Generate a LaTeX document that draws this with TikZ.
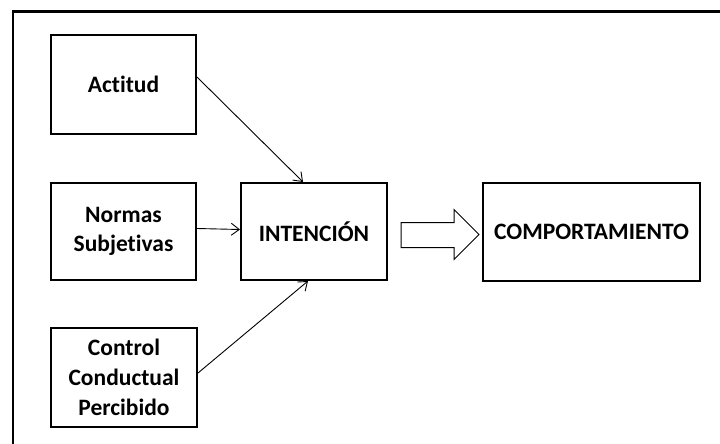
\documentclass[tikz,border=0pt]{standalone}
\usepackage{fontspec}
\setmainfont{Carlito}[Ligatures=NoCommon]
\usetikzlibrary{arrows.meta,calc}
\begin{document}
\begin{tikzpicture}[x=1pt,y=-1pt,
  box/.style={draw,line width=2pt,fill=white,align=center,inner sep=0pt,
    font=\fontsize{23.5}{29.7}\selectfont\bfseries},
  link/.style={line width=0.9pt,-{Straight Barb[length=8pt,width=12pt,line width=0.9pt]}}]
\useasboundingbox[fill=white] (0,0) rectangle (720,444);
% outer frame (top and left edges)
\coordinate (fbl) at (13,446);
\coordinate (ftl) at (13,11.5);
\coordinate (ftr) at (722,11.5);
\draw[line width=2.5pt] (fbl) -- (ftl) -- (ftr);
% boxes
\node[box,minimum width=145pt,minimum height=99pt] (actitud) at (123.5,84.5) {Actitud};
\node[box,minimum width=145pt,minimum height=97pt] (normas) at (123.5,231.5) {Normas\\Subjetivas};
\node[box,minimum width=146pt,minimum height=99pt] (control) at (124,377.5) {Control\\Conductual\\Percibido};
\node[box,minimum width=146pt,minimum height=97pt] (intencion) at (314,231.5) {INTENCIÓN};
\node[box,minimum width=217pt,minimum height=98pt] (comport) at (591.5,232) {COMPORTAMIENTO};
% influences on the intention
\draw[link] ([yshift=7.5pt]actitud.east) -- ([xshift=-11pt]intencion.north);
\draw[link] ([yshift=3pt]normas.east) -- ([yshift=2pt]intencion.west);
\draw[link] ([yshift=4.5pt]control.east) -- ([xshift=-6pt]intencion.south);
% block arrow from intention to behaviour
\coordinate (ba) at ($(intencion.east)+(13,3.5)$);
\draw[line width=1pt,fill=white] (ba) ++(0,-12.5) -- ++(53,0) -- ++(0,-13) -- ++(25,25)
  -- ++(-25,25) -- ++(0,-12) -- ++(-53,0) -- cycle;
\end{tikzpicture}
\end{document}
